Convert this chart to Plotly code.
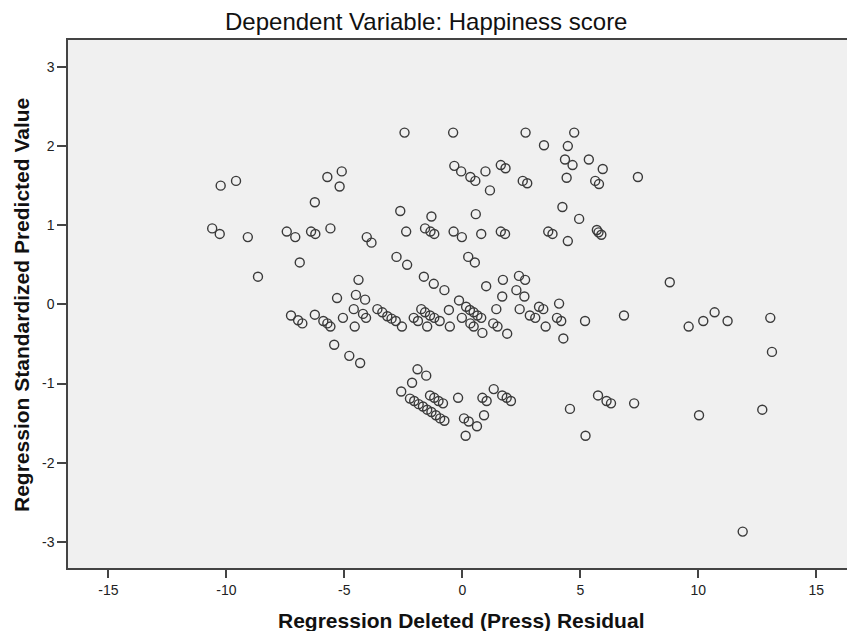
import plotly.graph_objects as go

# Regression Deleted (Press) Residual
press_residual = [
    -2.45, -0.39, 2.68, 4.74, 3.46, 4.47, 4.35, 5.36, 4.67,
    -0.34, -0.05, 0.34, 0.55, 0.98, 1.63, 1.83, 1.17, 2.56, 2.75, 4.42,
    5.63, 5.79, 5.95, 7.44, -10.24, -9.59, -5.72, -5.11, -5.20, -6.25,
    -2.63, -1.31, 4.24, 4.95, 0.57,
    -10.60, -10.28, -9.09, -7.44, -7.08, -6.41, -6.23, -5.59, -4.05, -3.85,
    -2.38, -1.58, -1.35, -1.19, -0.37, -0.02, 0.80, 1.63, 1.81, 3.64, 3.82,
    4.47, 5.70, 5.77, 5.89,
    -6.89, -8.66, -2.79, -2.34, 0.25, 0.53, -1.63, -1.21, -0.76, -4.40,
    8.79, 2.40, 2.66, 1.72, 1.01, 2.29, 1.69, 2.63, -4.51, -4.12, -5.31, 4.10,
    -7.26, -6.96, -6.78, -6.25, -5.89, -5.72, -5.59, -5.06, -4.60, -4.56,
    -4.21, -4.08, -3.60, -3.39, -3.18, -3.00, -2.82, -2.56, -2.06, -1.88,
    -1.74, -1.58, -1.49, -1.37, -1.19, -0.96, -0.57, -0.53, -0.14, -0.02,
    0.16, 0.32, 0.48, 0.64, 0.80, 0.34, 0.48, 0.85, 1.31, 1.44, 1.49, 1.90,
    2.43, 2.86, 3.09, 3.25, 3.43, 3.53, 4.01, 4.19, 4.28, 5.20, 6.85, 9.59,
    10.21, 10.69, 11.24, 13.05, 13.12,
    -5.43, -4.79, -4.33,
    -1.90, -1.53, -2.13, -2.59, -2.22, -2.04, -1.85, -1.67, -1.49, -1.31,
    -1.12, -0.94, -0.76, -1.37, -1.19, -1.01, -0.82, -0.18, 0.07, 0.27,
    0.14, 0.62, 0.92, 0.85, 1.03, 1.33, 1.69, 1.88, 2.06, 4.56, 5.22, 5.75,
    6.11, 6.30, 7.28, 10.03, 12.71, 11.88,
]

# Regression Standardized Predicted Value
std_predicted = [
    2.17, 2.17, 2.17, 2.17, 2.01, 2.00, 1.83, 1.83, 1.76,
    1.75, 1.68, 1.61, 1.56, 1.68, 1.76, 1.72, 1.44, 1.56, 1.53, 1.60,
    1.56, 1.52, 1.71, 1.61, 1.50, 1.56, 1.61, 1.68, 1.49, 1.29,
    1.18, 1.11, 1.23, 1.08, 1.14,
    0.96, 0.89, 0.85, 0.92, 0.85, 0.92, 0.89, 0.96, 0.85, 0.78,
    0.92, 0.96, 0.92, 0.89, 0.92, 0.85, 0.89, 0.92, 0.89, 0.92, 0.89,
    0.80, 0.94, 0.91, 0.88,
    0.53, 0.35, 0.60, 0.50, 0.60, 0.53, 0.35, 0.26, 0.18, 0.31,
    0.28, 0.36, 0.31, 0.31, 0.23, 0.18, 0.10, 0.10, 0.12, 0.06, 0.08, 0.01,
    -0.14, -0.20, -0.24, -0.13, -0.21, -0.24, -0.28, -0.17, -0.06, -0.28,
    -0.12, -0.17, -0.06, -0.10, -0.15, -0.18, -0.21, -0.28, -0.17, -0.21,
    -0.06, -0.10, -0.28, -0.14, -0.17, -0.21, -0.07, -0.28, 0.05, -0.17,
    -0.03, -0.07, -0.10, -0.14, -0.17, -0.24, -0.28, -0.36, -0.24, -0.06, -0.28, -0.37,
    -0.06, -0.14, -0.17, -0.03, -0.06, -0.28, -0.17, -0.21, -0.43, -0.21, -0.14, -0.28,
    -0.21, -0.10, -0.21, -0.17, -0.60,
    -0.51, -0.65, -0.74,
    -0.82, -0.90, -0.99, -1.10, -1.19, -1.22, -1.26, -1.29, -1.33, -1.36,
    -1.40, -1.44, -1.47, -1.15, -1.18, -1.22, -1.25, -1.18, -1.44, -1.48,
    -1.66, -1.54, -1.40, -1.18, -1.22, -1.07, -1.15, -1.18, -1.22, -1.32, -1.66, -1.15,
    -1.22, -1.25, -1.25, -1.40, -1.33, -2.87,
]

x_ticks = [-15, -10, -5, 0, 5, 10, 15]
y_ticks = [-3, -2, -1, 0, 1, 2, 3]

title_text = "Dependent Variable: Happiness score"
x_title = "Regression Deleted (Press) Residual"
y_title = "Regression Standardized Predicted Value"

tick_font = dict(family="Liberation Sans, Arial", size=14, color="#222")
title_font = dict(family="Liberation Sans, Arial", size=24, color="#111")
axis_title_font = dict(family="Liberation Sans, Arial", size=21, color="#111")

fig = go.Figure()
fig.add_trace(go.Scatter(
    x=press_residual, y=std_predicted, mode="markers",
    marker=dict(symbol="circle-open", size=9, color="#3a3a3a", line=dict(width=1.4, color="#3a3a3a")),
    showlegend=False, hoverinfo="x+y",
))

fig.update_layout(
    width=847, height=631,
    margin=dict(l=68, r=0, t=40, b=63, autoexpand=False),
    paper_bgcolor="white", plot_bgcolor="#f0f0f0",
    xaxis=dict(range=[-16.71, 16.30], tickvals=x_ticks, ticktext=[str(v) for v in x_ticks],
               showgrid=False, zeroline=False, showline=True, linecolor="#444", linewidth=1.5,
               mirror=True, ticks="outside", ticklen=8, tickcolor="#444", tickwidth=1.5,
               tickfont=tick_font),
    yaxis=dict(range=[-3.33, 3.34], tickvals=y_ticks, ticktext=[str(v) for v in y_ticks],
               showgrid=False, zeroline=False, showline=True, linecolor="#444", linewidth=1.5,
               ticks="outside", ticklen=9, tickcolor="#444", tickwidth=1.5,
               tickfont=tick_font),
    annotations=[
        dict(text=title_text, xref="paper", yref="paper", x=(426 - 68) / 779, y=(568 - 22) / 528,
             xanchor="center", yanchor="middle", showarrow=False, font=title_font),
        dict(text="<b>" + x_title + "</b>", xref="paper", yref="paper", x=(461 - 68) / 779,
             y=(568 - 620) / 528, xanchor="center", yanchor="middle", showarrow=False,
             font=axis_title_font),
        dict(text="<b>" + y_title + "</b>", xref="paper", yref="paper", x=(21 - 68) / 779,
             y=(568 - 305) / 528, xanchor="center", yanchor="middle", showarrow=False,
             textangle=-90, font=axis_title_font),
    ],
)

fig.write_html("out.html", config={"displayModeBar": False},
               post_script="document.body.style.margin='0px';document.body.style.overflow='hidden';")
